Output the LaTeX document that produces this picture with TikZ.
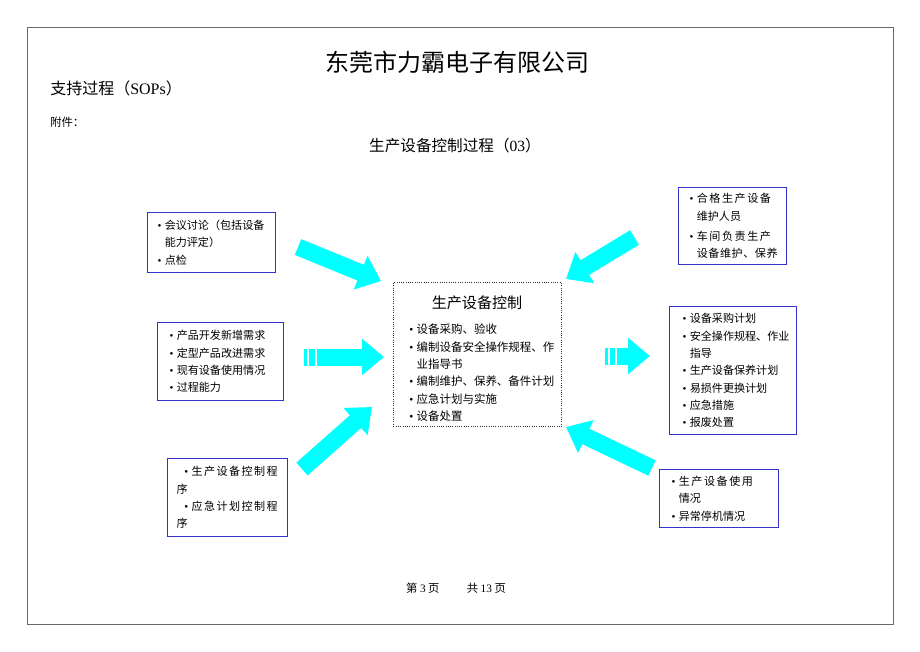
\documentclass[tikz,border=0pt]{standalone}
\usepackage{fontspec}
\setmainfont{Liberation Serif}
\newfontfamily\cjk{Noto Sans CJK SC}
\usetikzlibrary{arrows.meta}
\definecolor{boxblue}{RGB}{51,51,204}
\definecolor{arrcyan}{RGB}{0,255,255}
\definecolor{pageframe}{RGB}{110,100,112}
\newcommand{\itm}{\makebox[0.65em][l]{\rmfamily •}}
\newcommand{\hang}{\hspace*{0.65em}}
\newcommand{\wide}[2]{{\addfontfeature{LetterSpace=#1}#2}}
\begin{document}
\begin{tikzpicture}[x=0.75pt,y=-0.75pt,
		listbox/.style={draw=boxblue,line width=0.9pt,anchor=north west,inner ysep=0pt,align=left,
			font=\cjk\fontsize{8.3}{13}\selectfont},
		bigarrow/.style={draw=arrcyan,line width=12.75pt,-{Triangle[width=26.25pt,length=16.5pt]}}]
		\useasboundingbox (0,0) rectangle (920,651);
		\draw[color=pageframe,line width=0.6pt] (27,27) rectangle (893,624);
		% headings
		\node[font=\cjk\fontsize{18}{20}\selectfont] (company) at (457,62) {东莞市力霸电子有限公司};
		\node[anchor=west,inner sep=0pt,font=\cjk\fontsize{12}{14}\selectfont] (sops) at (50,88) {支持过程（{\rmfamily SOPs}）};
		\node[anchor=west,inner sep=0pt,font=\cjk\fontsize{8.5}{10}\selectfont] (annex) at (50,122) {附件：};
		\node[font=\cjk\fontsize{11.7}{14}\selectfont] (proctitle) at (455,146) {生产设备控制过程（{\rmfamily 03}）};
		% inputs
		\node[listbox,inner xsep=7.5pt,text width=81pt,minimum height=45pt] (meet) at (147,212)
			{\itm 会议讨论（包括设备\\ \hang 能力评定）\\ \itm 点检};
		\node[listbox,inner xsep=9pt,text width=76.5pt,minimum height=58.5pt] (demand) at (157,322)
			{\itm 产品开发新增需求\\ \itm 定型产品改进需求\\ \itm 现有设备使用情况\\ \itm 过程能力};
		\node[listbox,inner xsep=6.75pt,text width=76.5pt,minimum height=58.5pt] (proc) at (167,458)
			{\hspace*{0.7em}\itm \wide{13}{生产设备控制程}\\ 序\\ \hspace*{0.7em}\itm \wide{13}{应急计划控制程}\\ 序};
		% centre
		\node[draw=black!80,densely dotted,line width=0.7pt,anchor=north west,minimum width=126pt,minimum height=108pt,inner sep=0pt] (ctrlbox) at (393,282) {};
		\node[font=\cjk\fontsize{11.3}{13}\selectfont] (ctrltitle) at (477,303) {生产设备控制};
		\node[anchor=north west,inner sep=0pt,align=left,font=\cjk\fontsize{8.6}{13}\selectfont] (ctrllist) at (409,324)
			{\itm 设备采购、验收\\ \itm 编制设备安全操作规程、作\\ \hang 业指导书\\ \itm 编制维护、保养、备件计划\\ \itm 应急计划与实施\\ \itm 设备处置};
		% resources and outputs
		\node[listbox,inner xsep=8.25pt,text width=64.5pt,minimum height=57.75pt] (staff) at (678,187)
			{\itm \wide{14}{合格生产设备}\\ \hang 维护人员\\[2pt] \itm \wide{14}{车间负责生产}\\ \hang \wide{5}{设备维护、保养}};
		\node[listbox,inner xsep=9.75pt,text width=75.75pt,minimum height=96pt] (plans) at (669,306)
			{\itm 设备采购计划\\ \itm 安全操作规程、作业\\ \hang 指导\\ \itm 生产设备保养计划\\ \itm 易损件更换计划\\ \itm 应急措施\\ \itm 报废处置};
		\node[listbox,inner xsep=9pt,text width=71.25pt,minimum height=43.5pt] (usage) at (659,469)
			{\itm \wide{14}{生产设备使用}\\ \hang 情况\\ \itm 异常停机情况};
		% block arrows
		\coordinate (a1s) at (298,247); \coordinate (a1e) at (381,281);
		\coordinate (a2s) at (317,357); \coordinate (a2e) at (384,357);
		\coordinate (a3s) at (302,469); \coordinate (a3e) at (372,407);
		\coordinate (a4s) at (634.5,237.5); \coordinate (a4e) at (566,279);
		\coordinate (a5s) at (617,356); \coordinate (a5e) at (650,356);
		\coordinate (a6s) at (652,468); \coordinate (a6e) at (566,427);
		\draw[bigarrow] (a1s) -- (a1e);
		\draw[bigarrow] (a2s) -- (a2e);
		\draw[bigarrow] (a3s) -- (a3e);
		\draw[bigarrow] (a4s) -- (a4e);
		\draw[bigarrow] (a5s) -- (a5e);
		\draw[bigarrow] (a6s) -- (a6e);
		\fill[color=arrcyan] (304,348.5) rectangle (307,365.5);
		\fill[color=arrcyan] (309,348.5) rectangle (315,365.5);
		\fill[color=arrcyan] (605,347.5) rectangle (608,364.5);
		\fill[color=arrcyan] (610,347.5) rectangle (615,364.5);
		% footer
		\node[font=\cjk\fontsize{8.5}{10}\selectfont] (pageno) at (456,588) {第 {\rmfamily 3} 页\hspace{2.4em}共 {\rmfamily 13} 页};
	\end{tikzpicture}
\end{document}
